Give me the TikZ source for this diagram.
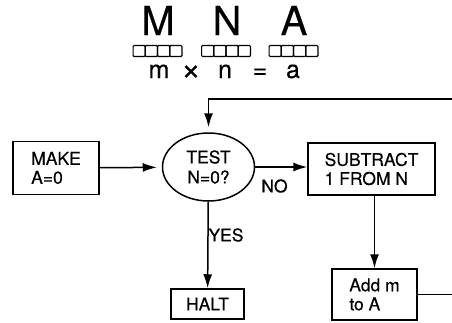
\documentclass[tikz,border=0pt]{standalone}
\usepackage{fontspec}
\setmainfont{TeX Gyre Heros}[FakeBold=0.4]
\usetikzlibrary{arrows.meta,positioning,shapes.geometric}

\begin{document}
\begin{tikzpicture}[
    x=1pt, y=-1pt,
    box/.style={draw, line width=1.5pt, align=left, inner sep=0pt,
      font=\fontsize{17.5}{19}\selectfont},
    oval/.style={draw, ellipse, line width=1.5pt, align=center, inner sep=0pt,
      minimum width=92pt, minimum height=68pt, font=\fontsize{17.5}{20}\selectfont},
    cell/.style={draw, line width=1.2pt, minimum width=12.2pt, minimum height=11pt,
      inner sep=0pt, rounded corners=1pt},
    big/.style={font=\fontsize{40}{40}\selectfont, inner sep=0pt, anchor=base},
    var/.style={font=\fontsize{25}{25}\selectfont, inner sep=0pt, anchor=base},
    lbl/.style={font=\fontsize{17.5}{19}\selectfont, inner sep=0pt},
    ln/.style={line width=1.5pt},
    arr/.style={ln, -{Latex[length=14pt,width=9pt]}}
  ]
    \useasboundingbox (0,0) rectangle (452,322);

    % registers
    \node[big] (bigM) at (158,35) {M};
    \node[big] (bigN) at (227,35) {N};
    \node[big] (bigA) at (294,35) {A};
    \foreach \cx/\r in {157.5/M, 226/N, 293.5/A}
      \foreach \i in {1,...,4}
        \node[cell] (reg\r\i) at ({\cx+(\i-2.5)*12.2},51) {};
    \node[var] (vm) at (159,78) {m};
    \node[var, font=\fontsize{34}{34}\selectfont] (vx) at (191,80) {×};
    \node[var] (vn) at (225,78) {n};
    \node[var] (veq) at (260,78) {=};
    \node[var] (va) at (293,78) {a};

    % flow
    \node[box, minimum width=86pt, minimum height=53pt] (make) at (56,168) {MAKE\\A=0};
    \node[oval] (test) at (208.5,167) {TEST\\N=0?};
    \node[box, minimum width=127pt, minimum height=52pt] (sub) at (371.5,169) {SUBTRACT\\1 FROM N};
    \node[box, minimum width=85pt, minimum height=51pt] (add) at (374.5,294.5) {Add m\\to A};
    \node[box, minimum width=73pt, minimum height=30pt] (halt) at (207.5,304) {HALT};
    \node[lbl] (no) at (274.5,186) {NO};
    \node[lbl] (yes) at (226,235) {YES};
    \coordinate (loopR) at (452,99);
    \coordinate (addR) at (452,294.5);

    \draw[arr, shorten >=5pt] (make) -- (test);
    \draw[arr] (test.east) -- (test.east -| sub.west);
    \draw[arr] (test) -- (halt);
    \draw[arr] (sub.south -| add.north) -- (add.north);
    \draw[arr, shorten >=5pt] (loopR) -| (test.north);
    \draw[ln] (add.east) -- (addR);
\end{tikzpicture}
\end{document}
